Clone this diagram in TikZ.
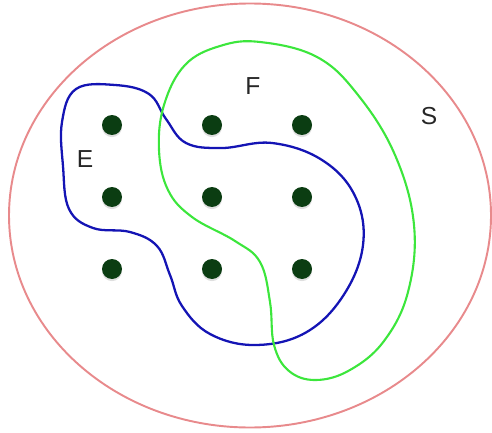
\documentclass[tikz,border=0pt]{standalone}
\usepackage{fontspec}
\setmainfont{Liberation Sans}
\usetikzlibrary{shadows}
\definecolor{Rim}{HTML}{E88A8C}
\definecolor{SetE}{HTML}{1414B4}
\definecolor{SetF}{HTML}{3CE63C}
\definecolor{Pt}{HTML}{0B3D12}
\tikzset{
  elem/.style={circle, fill=Pt, minimum size=0.4cm, inner sep=0pt,
    drop shadow={shadow xshift=0pt, shadow yshift=-1.2pt, opacity=0.25}},
  setname/.style={font=\fontsize{14}{16}\selectfont, text=black!85},
  rim/.style={draw=Rim, line width=1.1pt}
}
\begin{document}
\begin{tikzpicture}[x=0.02cm,y=-0.02cm]
  \useasboundingbox (0,0) rectangle (492,432);
  % universe
  \draw[rim] (250,215.5) ellipse [x radius=241, y radius=212];
  % elements
  \foreach \r/\y in {1/125,2/197,3/269}
    \foreach \c/\x in {1/112,2/212,3/302}
      \node[elem] (p\r\c) at (\x,\y) {};
  % set E
  \draw[SetE, line width=1.3pt] plot[smooth cycle, tension=0.65] coordinates {
    (62,122) (63,166) (69,209) (93,228) (130,232) (157,246) (170,275)
    (182,306) (210,334) (255,345) (305,333) (343,296) (363,245) (355,196)
    (322,160) (272,143) (222,148) (186,143) (166,119) (149,94) (115,85) (76,89)};
  % set F
  \draw[SetF, line width=1.2pt] plot[smooth cycle, tension=0.65] coordinates {
    (260,42) (317,57) (358,95) (395,155) (414,225) (408,292) (384,341)
    (350,370) (316,380) (289,371) (274,345) (270,302) (260,262) (235,241)
    (192,217) (168,190) (159,150) (164,105) (185,65) (220,46)};
  % names
  \node[setname] (nameE) at (85,159) {E};
  \node[setname] (nameF) at (253,86) {F};
  \node[setname] (nameS) at (429,116) {S};
\end{tikzpicture}
\end{document}
